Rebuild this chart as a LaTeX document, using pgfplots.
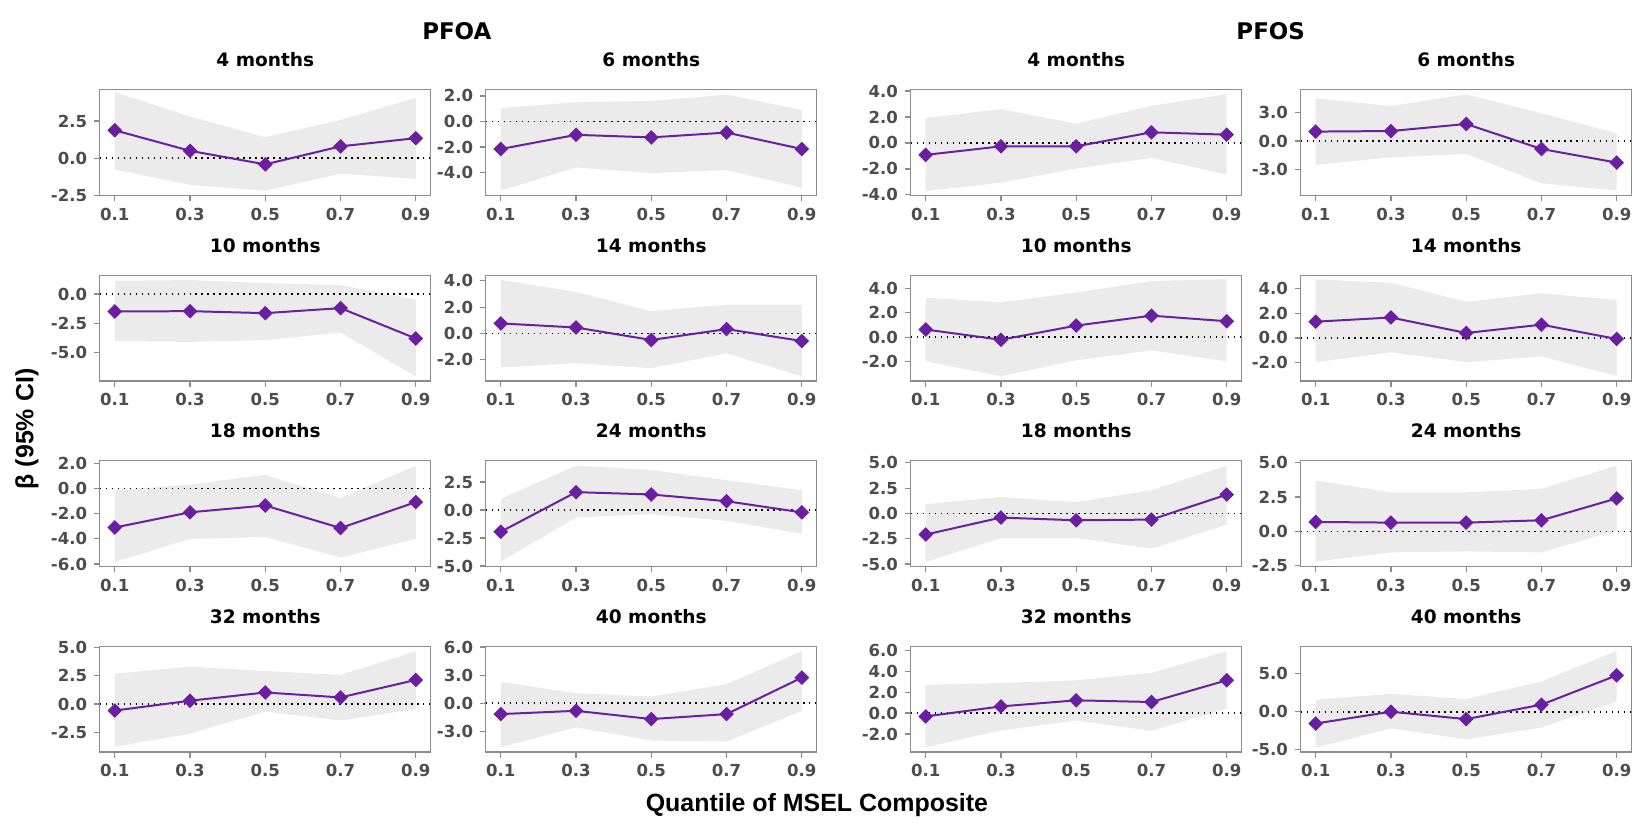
\documentclass[border=0pt]{standalone}
\usepackage{fontspec}
\setmainfont{Liberation Sans}
\newfontfamily\dejavu{DejaVu Sans}
\usepackage{pgfplots}
\pgfplotsset{compat=1.18}
\usepackage{pgfplotstable}
\usepgfplotslibrary{fillbetween}

\definecolor{purp}{HTML}{6B1FA0}
\definecolor{ribbon}{HTML}{EBEBEB}
\definecolor{frame}{HTML}{8C8C8C}
\definecolor{ticktxt}{HTML}{4D4D4D}

% columns: q = quantile, m = estimate, lo/hi = 95% CI
\pgfplotstableread{
q m lo hi
0.1 1.88 -0.76 4.45
0.3 0.50 -1.79 2.80
0.5 -0.41 -2.18 1.42
0.7 0.80 -1.03 2.57
0.9 1.35 -1.38 4.06
}\dAfour
\pgfplotstableread{
q m lo hi
0.1 -2.16 -5.42 1.05
0.3 -1.05 -3.60 1.50
0.5 -1.25 -4.05 1.60
0.7 -0.87 -3.80 2.10
0.9 -2.16 -5.20 0.90
}\dAsix
\pgfplotstableread{
q m lo hi
0.1 -0.92 -3.71 1.92
0.3 -0.26 -3.07 2.61
0.5 -0.26 -1.97 1.48
0.7 0.82 -1.15 2.86
0.9 0.64 -2.43 3.76
}\dSfour
\pgfplotstableread{
q m lo hi
0.1 1.00 -2.55 4.54
0.3 1.06 -1.74 3.72
0.5 1.81 -1.38 4.96
0.7 -0.85 -4.50 2.94
0.9 -2.30 -5.28 0.82
}\dSsix
\pgfplotstableread{
q m lo hi
0.1 -1.50 -4.04 1.13
0.3 -1.47 -4.10 1.19
0.5 -1.64 -3.95 0.93
0.7 -1.21 -3.30 0.76
0.9 -3.81 -7.06 -0.48
}\dAten
\pgfplotstableread{
q m lo hi
0.1 0.76 -2.59 4.08
0.3 0.45 -2.27 3.15
0.5 -0.50 -2.64 1.69
0.7 0.33 -1.51 2.19
0.9 -0.58 -3.27 2.19
}\dAfourteen
\pgfplotstableread{
q m lo hi
0.1 0.63 -1.99 3.27
0.3 -0.22 -3.22 2.86
0.5 0.95 -1.91 3.68
0.7 1.77 -1.09 4.63
0.9 1.31 -1.99 4.77
}\dSten
\pgfplotstableread{
q m lo hi
0.1 1.31 -1.95 4.72
0.3 1.65 -1.15 4.45
0.5 0.40 -1.95 2.91
0.7 1.07 -1.49 3.60
0.9 -0.08 -3.07 3.07
}\dSfourteen
\pgfplotstableread{
q m lo hi
0.1 -3.10 -5.85 -0.16
0.3 -1.89 -4.00 0.32
0.5 -1.35 -3.86 1.08
0.7 -3.14 -5.49 -0.76
0.9 -1.08 -4.00 1.81
}\dAeighteen
\pgfplotstableread{
q m lo hi
0.1 -1.94 -4.60 1.00
0.3 1.60 -0.67 3.97
0.5 1.39 -0.36 3.58
0.7 0.79 -0.97 2.67
0.9 -0.21 -2.12 1.76
}\dAtwentyfour
\pgfplotstableread{
q m lo hi
0.1 -2.09 -4.80 0.91
0.3 -0.41 -2.43 1.62
0.5 -0.68 -2.43 1.11
0.7 -0.61 -3.48 2.30
0.9 1.86 -1.11 4.73
}\dSeighteen
\pgfplotstableread{
q m lo hi
0.1 0.69 -2.20 3.70
0.3 0.64 -1.52 2.84
0.5 0.64 -1.45 2.84
0.7 0.81 -1.52 3.09
0.9 2.40 0.07 4.78
}\dStwentyfour
\pgfplotstableread{
q m lo hi
0.1 -0.58 -3.79 2.68
0.3 0.29 -2.62 3.30
0.5 1.02 -0.67 2.92
0.7 0.58 -1.46 2.57
0.9 2.13 -0.44 4.66
}\dAthirtytwo
\pgfplotstableread{
q m lo hi
0.1 -1.17 -4.72 2.27
0.3 -0.82 -2.59 1.06
0.5 -1.70 -4.00 0.71
0.7 -1.17 -4.11 2.02
0.9 2.73 -0.82 5.57
}\dAforty
\pgfplotstableread{
q m lo hi
0.1 -0.32 -3.27 2.72
0.3 0.64 -1.67 2.88
0.5 1.22 -0.70 3.14
0.7 1.06 -1.70 3.85
0.9 3.14 0.42 5.93
}\dSthirtytwo
\pgfplotstableread{
q m lo hi
0.1 -1.55 -4.73 1.59
0.3 0.00 -2.17 2.35
0.5 -0.97 -3.63 1.68
0.7 0.93 -2.08 3.98
0.9 4.78 1.33 8.00
}\dSforty

\pgfplotsset{
  panel/.style={
    scale only axis, width=166pt, height=53pt,
    anchor=north west,
    xmin=0.06, xmax=0.94,
    xtick={0.1,0.3,0.5,0.7,0.9},
    axis line style={draw=frame, line width=0.6pt},
    tick align=outside, tick pos=left,
    major tick length=2.8pt,
    tick style={draw=frame, line width=0.6pt},
    /pgf/number format/.cd, fixed, fixed zerofill, precision=1, assume math mode=true,
    /pgfplots/.cd,
    ticklabel style={font=\dejavu\bfseries\fontsize{8.3}{9}\selectfont, text=ticktxt},
    title style={at={(0.5,1)}, anchor=base, yshift=5.6pt, font=\dejavu\bfseries\fontsize{9.3}{11}\selectfont},
  }
}

\newcommand{\panel}[8]{%
\begin{axis}[panel, at={(#1pt,-#2pt)}, title={#3}, ymin=#4, ymax=#5, ytick={#6}]
\addplot[draw=none, name path=hi#8] table[x=q, y=hi] {#7};
\addplot[draw=none, name path=lo#8] table[x=q, y=lo] {#7};
\addplot[fill=ribbon, draw=none] fill between[of=hi#8 and lo#8];
\addplot[black, dash pattern=on 0.8pt off 2.2pt, line width=0.8pt] coordinates {(0.06,0) (0.94,0)};
\addplot[purp, line width=1pt, mark=square*, mark size=2.1pt, mark options={solid, rotate=45}] table[x=q, y=m] {#7};
\end{axis}}

\begin{document}
\begin{tikzpicture}
\path (0,0) rectangle (819pt,-411.5pt);
% row 1
\panel{50}{45}{4 months}{-2.5}{4.6}{-2.5,0,2.5}{\dAfour}{a}
\panel{243.5}{45}{6 months}{-5.8}{2.48}{-4,-2,0,2}{\dAsix}{b}
\panel{456.5}{45}{4 months}{-4.05}{4.1}{-4,-2,0,2,4}{\dSfour}{c}
\panel{652}{45}{6 months}{-5.8}{5.45}{-3,0,3}{\dSsix}{d}
% row 2
\panel{50}{138}{10 months}{-7.45}{1.6}{-5,-2.5,0}{\dAten}{e}
\panel{243.5}{138}{14 months}{-3.62}{4.42}{-2,0,2,4}{\dAfourteen}{f}
\panel{456.5}{138}{10 months}{-3.62}{5.1}{-2,0,2,4}{\dSten}{g}
\panel{652}{138}{14 months}{-3.47}{5.05}{-2,0,2,4}{\dSfourteen}{h}
% row 3
\panel{50}{231}{18 months}{-6.2}{2.2}{-6,-4,-2,0,2}{\dAeighteen}{i}
\panel{243.5}{231}{24 months}{-5.05}{4.4}{-5,-2.5,0,2.5}{\dAtwentyfour}{j}
\panel{456.5}{231}{18 months}{-5.25}{5.2}{-5,-2.5,0,2.5,5}{\dSeighteen}{k}
\panel{652}{231}{24 months}{-2.55}{5.13}{-2.5,0,2.5,5}{\dStwentyfour}{l}
% row 4
\panel{50}{324}{32 months}{-4.25}{5.1}{-2.5,0,2.5,5}{\dAthirtytwo}{m}
\panel{243.5}{324}{40 months}{-5.23}{6.08}{-3,0,3,6}{\dAforty}{n}
\panel{456.5}{324}{32 months}{-3.73}{6.39}{-2,0,2,4,6}{\dSthirtytwo}{o}
\panel{652}{324}{40 months}{-5.3}{8.6}{-5,0,5}{\dSforty}{p}
% headers and axis titles
\node[font=\dejavu\bfseries\fontsize{11.5}{13}\selectfont, anchor=base] at (229pt,-20pt) {PFOA};
\node[font=\dejavu\bfseries\fontsize{11.5}{13}\selectfont, anchor=base] at (637pt,-20pt) {PFOS};
\node[font=\bfseries\fontsize{12.5}{15}\selectfont, rotate=90] at (13.5pt,-215pt) {β (95\% CI)};
\node[font=\bfseries\fontsize{12.5}{15}\selectfont] at (409.5pt,-403.5pt) {Quantile of MSEL Composite};
\end{tikzpicture}
\end{document}
